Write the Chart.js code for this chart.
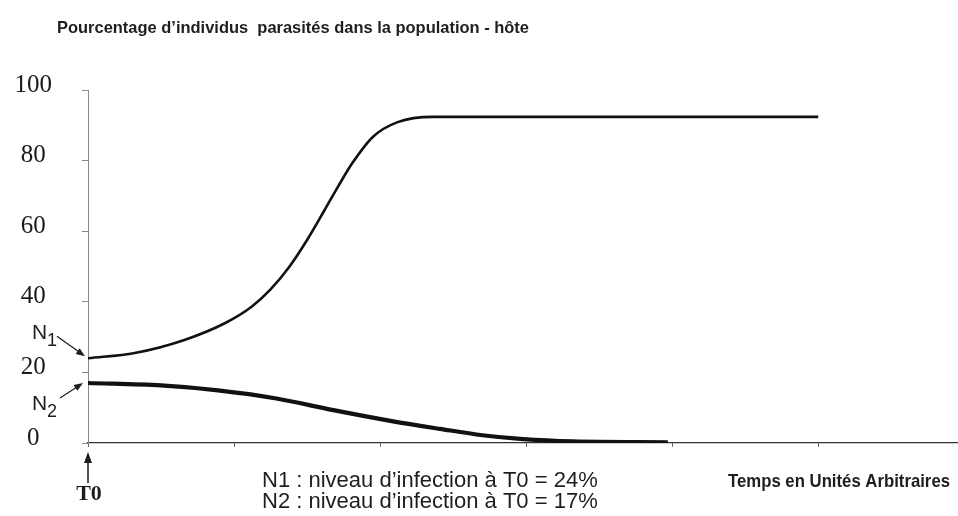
<!DOCTYPE html>
<html lang="fr">
<head>
<meta charset="utf-8">
<title>Pourcentage d’individus parasités</title>
<script src="https://cdn.jsdelivr.net/npm/chart.js@4.4.1/dist/chart.umd.min.js"></script>
<style>
    html, body { margin: 0; padding: 0; background: #fff; }
    #chart { display: block; }
</style>
</head>
<body>
<canvas id="chart" width="958" height="516"></canvas>
<script>
// courbe N1 : niveau d'infection initial 24 %
const tempsN1 = [0, 0.32, 0.66, 0.94, 1.12, 1.25, 1.38, 1.5, 1.62, 1.71, 1.81, 1.95, 2.12, 2.36, 5];
const valeursN1 = [24, 25.5, 29.2, 34, 38.6, 43.5, 50, 57.5, 66, 72.5, 79.3, 86.7, 90.9, 92.4, 92.4];

// courbe N2 : niveau d'infection initial 17 %
const tempsN2 = [0, 0.5, 0.89, 1.29, 1.68, 2.08, 2.41, 2.7, 2.98, 3.32, 3.97];
const valeursN2 = [17, 16.3, 14.9, 12.6, 9.3, 6.2, 4.0, 2.2, 1.1, 0.45, 0.2];

const graduationsY = [0, 20, 40, 60, 80, 100];
const graduationsX = [0, 1, 2, 3, 4, 5];

const titre = 'Pourcentage d’individus  parasités dans la population - hôte';
const legendeN1 = 'N1 : niveau d’infection à T0 = 24%';
const legendeN2 = 'N2 : niveau d’infection à T0 = 17%';
const titreAxeX = 'Temps en Unités Arbitraires';

function toPoints(xs, ys) {
    return xs.map((x, i) => ({ x: x, y: ys[i] }));
}

// flèche pleine de (x1,y1) vers (x2,y2)
function fleche(ctx, x1, y1, x2, y2, longueur, demi) {
    const a = Math.atan2(y2 - y1, x2 - x1);
    const c = Math.cos(a), s = Math.sin(a);
    ctx.beginPath();
    ctx.moveTo(x1, y1);
    ctx.lineTo(x2 - c * longueur * 0.8, y2 - s * longueur * 0.8);
    ctx.stroke();
    ctx.beginPath();
    ctx.moveTo(x2, y2);
    ctx.lineTo(x2 - c * longueur + s * demi, y2 - s * longueur - c * demi);
    ctx.lineTo(x2 - c * longueur - s * demi, y2 - s * longueur + c * demi);
    ctx.closePath();
    ctx.fill();
}

const annotations = {
    id: 'annotations',
    afterDraw(chart) {
        const ctx = chart.ctx;
        const xs = chart.scales.x, ys = chart.scales.y;
        const x0 = xs.getPixelForValue(0);
        const yN1 = ys.getPixelForValue(valeursN1[0]);
        const yN2 = ys.getPixelForValue(valeursN2[0]);
        const yAxe = ys.getPixelForValue(0);

        ctx.save();
        ctx.fillStyle = '#1e1e1e';
        ctx.strokeStyle = '#1e1e1e';
        ctx.textBaseline = 'alphabetic';
        ctx.textAlign = 'left';

        // titre (police étroite simulée par maxWidth)
        ctx.font = 'bold 17px "Liberation Sans", Arial, sans-serif';
        ctx.fillText(titre, 57, 33, 472);

        // N1 et N2
        ctx.font = '21px "Liberation Sans", Arial, sans-serif';
        ctx.fillText('N', x0 - 56, yN1 - 19);
        ctx.fillText('N', x0 - 56, yN2 + 27);
        ctx.font = '18px "Liberation Sans", Arial, sans-serif';
        ctx.fillText('1', x0 - 41, yN1 - 12);
        ctx.fillText('2', x0 - 41, yN2 + 34);

        ctx.lineWidth = 1.2;
        fleche(ctx, x0 - 31, yN1 - 22, x0 - 3, yN1 - 2, 9, 3.5);
        fleche(ctx, x0 - 28, yN2 + 15, x0 - 5, yN2, 9, 3.5);

        // T0
        ctx.lineWidth = 1.5;
        fleche(ctx, x0, yAxe + 40, x0, yAxe + 9, 11, 4);
        ctx.textAlign = 'center';
        ctx.font = 'bold 22px "Liberation Serif", "Times New Roman", serif';
        ctx.fillText('T0', x0 + 1, yAxe + 57);

        // légendes
        ctx.textAlign = 'left';
        ctx.font = '22px "Liberation Sans", Arial, sans-serif';
        ctx.fillText(legendeN1, 262, 487, 340);
        ctx.fillText(legendeN2, 262, 508, 340);

        // titre de l'axe des temps
        ctx.font = 'bold 19px "Liberation Sans", Arial, sans-serif';
        ctx.fillText(titreAxeX, 728, 487, 222);
        ctx.restore();
    }
};

new Chart(document.getElementById('chart'), {
    type: 'line',
    data: {
        datasets: [
            {
                label: 'N1',
                data: toPoints(tempsN1, valeursN1),
                borderColor: '#111',
                borderWidth: 2.6,
                pointRadius: 0,
                cubicInterpolationMode: 'monotone'
            },
            {
                label: 'N2',
                data: toPoints(tempsN2, valeursN2),
                borderColor: '#111',
                borderWidth: 4.2,
                pointRadius: 0,
                cubicInterpolationMode: 'monotone'
            }
        ]
    },
    options: {
        responsive: false,
        animation: false,
        layout: { padding: { top: 90, right: 1, bottom: 0, left: 0 } },
        plugins: {
            legend: { display: false },
            tooltip: { enabled: false }
        },
        scales: {
            x: {
                type: 'linear',
                min: 0,
                max: 5.95,
                afterBuildTicks: (scale) => { scale.ticks = graduationsX.map(v => ({ value: v })); },
                afterFit: (scale) => { scale.height = 73; },
                ticks: { display: false },
                grid: { drawOnChartArea: false, drawTicks: true, tickLength: 4, color: '#666' },
                border: { display: true, color: '#333', width: 1.2 }
            },
            y: {
                min: 0,
                max: 100,
                afterBuildTicks: (scale) => { scale.ticks = graduationsY.map(v => ({ value: v })); },
                afterFit: (scale) => { scale.width = 88; },
                ticks: {
                    color: '#1a1a1a',
                    font: { family: '"Liberation Serif", "Times New Roman", serif', size: 25 },
                    crossAlign: 'center',
                    padding: 30,
                    labelOffset: -5
                },
                grid: { drawOnChartArea: false, drawTicks: true, tickLength: 6, color: '#888' },
                border: { display: true, color: '#888', width: 1 }
            }
        }
    },
    plugins: [annotations]
});
</script>
</body>
</html>
